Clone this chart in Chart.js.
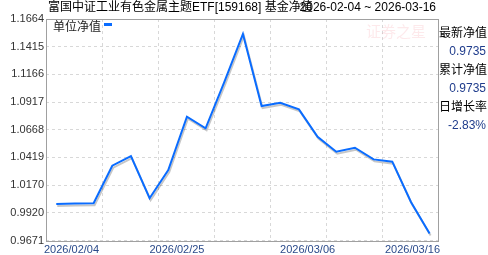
<!DOCTYPE html>
<html>
<head>
<meta charset="utf-8">
<script src="https://cdn.jsdelivr.net/npm/chart.js@4.4.1/dist/chart.umd.min.js"></script>
<style>
  html, body { margin: 0; padding: 0; background: #fff; }
  #wrap { width: 488px; height: 255px; }
</style>
</head>
<body>
<div id="wrap"><canvas id="navChart" width="488" height="255"></canvas></div>
<script>
// 数据
const dates = ['2026/02/04', '2026/02/06', '2026/02/10', '2026/02/11', '2026/02/12', '2026/02/13',
    '2026/02/24', '2026/02/25', '2026/02/26', '2026/02/27', '2026/03/02', '2026/03/03',
    '2026/03/04', '2026/03/05', '2026/03/06', '2026/03/09', '2026/03/10', '2026/03/11',
    '2026/03/12', '2026/03/13', '2026/03/16'];
const navValues = [1.0000, 1.0005, 1.0006, 1.0344, 1.0431, 1.0051, 1.0305, 1.0785, 1.0680, 1.1097,
    1.1529, 1.0881, 1.0911, 1.0851, 1.0605, 1.0470, 1.0506, 1.0401, 1.0380, 1.0018, 0.9735];
const yTicks = [0.9671, 0.9920, 1.0170, 1.0419, 1.0668, 1.0917, 1.1166, 1.1415, 1.1664];
const xLabelIdx = [0, 7, 14, 20];
const sideInfo = [['最新净值', '0.9735'], ['累计净值', '0.9735'], ['日增长率', '-2.83%']];

const FONT = '"Liberation Sans", Arial, "Noto Sans CJK SC", sans-serif';

// 标题、图例、右侧信息、边框等
const decor = {
    id: 'decor',
    beforeDatasetsDraw(chart) {
        const { ctx, chartArea: a } = chart;
        ctx.save();
        // 水印
        ctx.font = '15px "Noto Sans CJK SC"';
        ctx.fillStyle = 'rgba(240, 120, 130, 0.16)';
        ctx.textBaseline = 'middle';
        ctx.fillText('证券之星', 366, 31);
        // 边框
        ctx.strokeStyle = '#a0a0a0';
        ctx.lineWidth = 1;
        ctx.strokeRect(Math.round(a.left) + 0.5, Math.round(a.top) + 0.5,
            Math.round(a.right - a.left), Math.round(a.bottom - a.top));
        ctx.restore();
    },
    beforeDatasetDraw(chart) {
        const ctx = chart.ctx;
        ctx.save();
        ctx.shadowColor = 'rgba(0, 0, 0, 0.22)';
        ctx.shadowOffsetX = 1;
        ctx.shadowOffsetY = 2;
        ctx.shadowBlur = 0;
    },
    afterDatasetDraw(chart) {
        chart.ctx.restore();
    },
    afterDraw(chart) {
        const { ctx, chartArea: a } = chart;
        const xs = chart.scales.x;
        ctx.save();
        ctx.textBaseline = 'middle';
        // 标题
        ctx.font = '12px ' + FONT;
        ctx.fillStyle = '#000';
        ctx.textAlign = 'left';
        ctx.fillText('富国中证工业有色金属主题ETF[159168] 基金净值', 48, 8);
        ctx.textAlign = 'right';
        ctx.fillText('2026-02-04 ~ 2026-03-16', 436, 8);
        // 图例
        ctx.textAlign = 'left';
        ctx.fillStyle = '#222';
        ctx.fillText('单位净值', 53, 28);
        ctx.fillStyle = '#0a6cff';
        ctx.fillRect(104, 23, 8, 3);
        // 右侧信息
        sideInfo.forEach((row, i) => {
            const y = 34 + i * 37;
            ctx.textAlign = 'left';
            ctx.fillStyle = '#000';
            ctx.fillText(row[0], 439, y);
            ctx.textAlign = 'right';
            ctx.fillStyle = '#1f3c8c';
            ctx.fillText(row[1], 486, y + 18);
        });
        // 横轴日期
        ctx.font = '11px ' + FONT;
        ctx.fillStyle = '#2a4a8a';
        ctx.textAlign = 'left';
        ctx.textBaseline = 'top';
        xLabelIdx.forEach(i => {
            const t = dates[i];
            const w = ctx.measureText(t).width;
            let left = xs.getPixelForValue(i) - 10 - w / 2;
            left = Math.max(44, Math.min(440 - w, left));
            ctx.fillText(t, left, a.bottom + 4);
        });
        ctx.restore();
    }
};

const ctx = document.getElementById('navChart').getContext('2d');
const navChart = new Chart(ctx, {
    type: 'line',
    data: {
        datasets: [{
            label: '单位净值',
            data: navValues.map((v, i) => ({ x: i, y: v })),
            borderColor: '#0a6cff',
            borderWidth: 2,
            pointRadius: 0,
            tension: 0,
            fill: false
        }]
    },
    options: {
        responsive: false,
        animation: false,
        devicePixelRatio: 1,
        layout: { padding: { top: 19, right: 50, left: 0, bottom: 14.5 } },
        plugins: {
            legend: { display: false },
            tooltip: { enabled: false }
        },
        scales: {
            x: {
                type: 'linear',
                min: -0.55,
                max: 20.45,
                afterBuildTicks: s => {
                    const step = (s.max - s.min) / 7;
                    s.ticks = [0, 1, 2, 3, 4, 5, 6, 7].map(k => ({ value: s.min + k * step }));
                },
                afterFit: s => { s.height = 0; },
                ticks: { display: false },
                border: { display: false, dash: [3, 3] },
                grid: { color: '#d8d8d8', drawTicks: false }
            },
            y: {
                min: yTicks[0],
                max: yTicks[yTicks.length - 1],
                afterBuildTicks: s => { s.ticks = yTicks.map(v => ({ value: v })); },
                afterFit: s => { s.width = 46; },
                ticks: {
                    padding: 2,
                    color: '#333',
                    font: { size: 11, family: FONT },
                    callback: v => v.toFixed(4)
                },
                border: { display: false, dash: [3, 3] },
                grid: { color: '#d8d8d8', drawTicks: false }
            }
        }
    },
    plugins: [decor]
});
</script>
</body>
</html>
